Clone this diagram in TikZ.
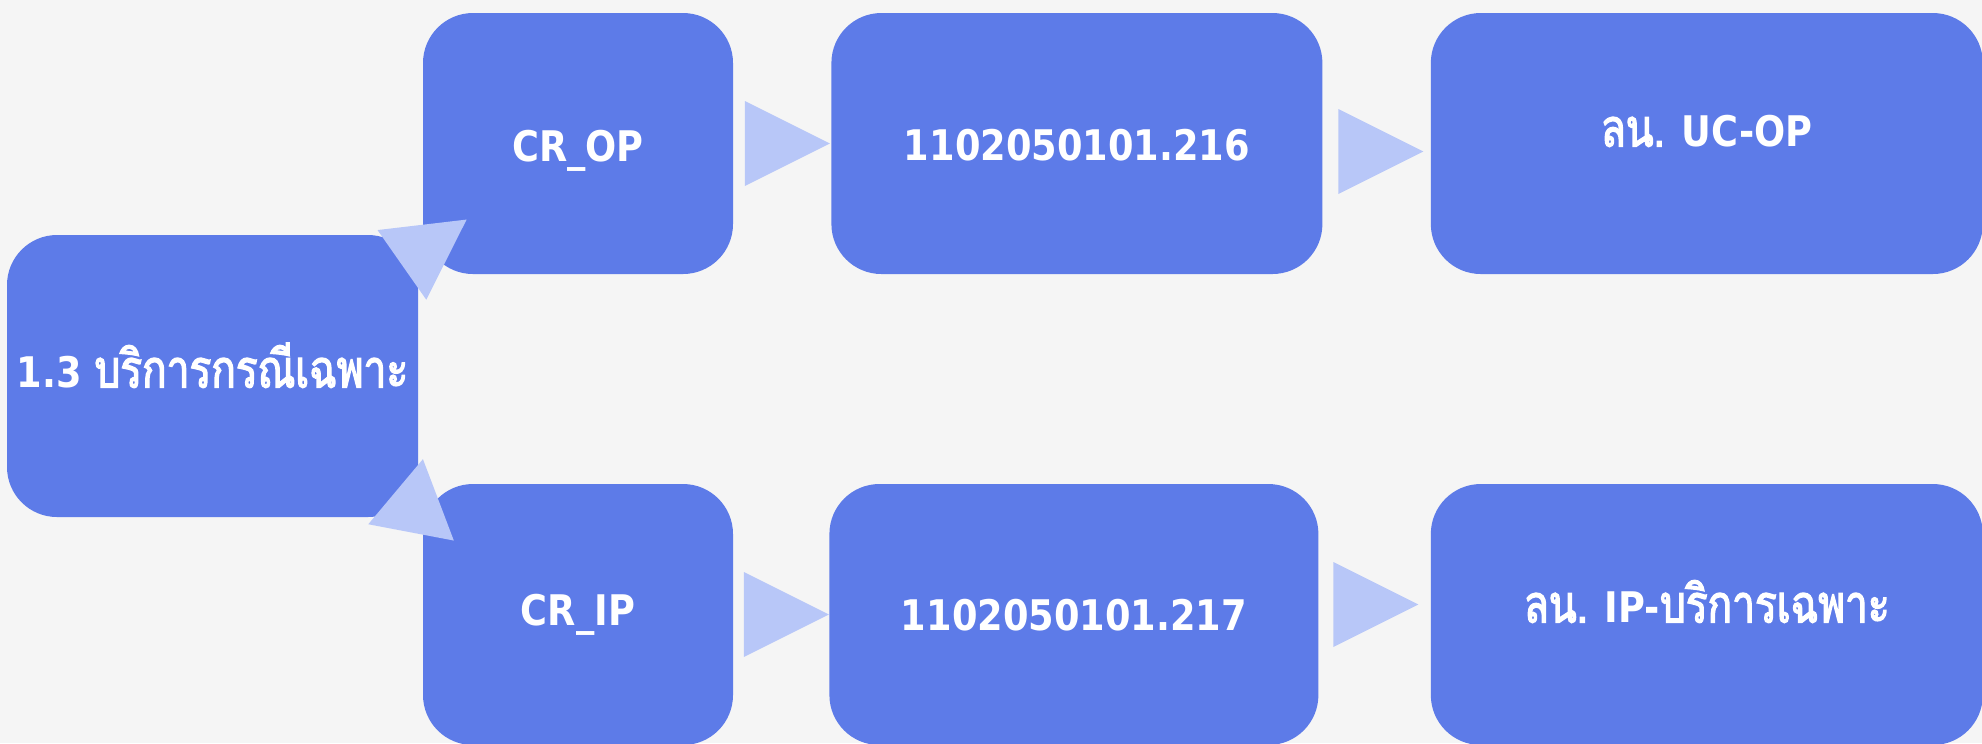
\documentclass[tikz,border=0pt]{standalone}
\usepackage{fontspec}
\setmainfont{DejaVu Sans}[FakeStretch=0.87]
\newfontfamily\thaifont[Script=Thai, FakeBold=2.5, Scale=1.25, FakeStretch=0.77]{Loma}
\newcommand{\thaitxt}[1]{{\thaifont\mdseries #1}}
\usetikzlibrary{positioning, calc, shapes.geometric}
\definecolor{boxblue}{HTML}{5D7BE8}
\definecolor{arrowblue}{HTML}{B8C7F8}
\definecolor{paper}{HTML}{F5F5F5}
\tikzset{
  box/.style={rectangle, rounded corners=5mm, fill=boxblue, text=white,
    font=\bfseries\fontsize{12}{14}\selectfont, text height=3.1mm, text depth=0mm,
    minimum height=26.1mm, inner sep=0pt, align=center},
  tri/.style={isosceles triangle, isosceles triangle stretches, fill=arrowblue,
    minimum width=8.5mm, minimum height=8.5mm, inner sep=0pt}
}

\begin{document}
\begin{tikzpicture}[x=0.1mm, y=-0.1mm]
    \fill[paper] (0,0) rectangle (1982,743);
    \clip (0,0) rectangle (1982,743);

    \node[box, minimum width=41.1mm, minimum height=28.2mm] (root) at (212.5,376) {\raisebox{0.4mm}{1.3 \thaitxt{บริการกรณีเฉพาะ}}};

    \node[box, minimum width=31mm] (crop) at (578,143.5) {\raisebox{-0.25mm}{CR\_OP}};
    \node[box, minimum width=49.1mm, right=9.7mm of crop] (code216) {\raisebox{-0.15mm}{1102050101.216}};
    \node[box, minimum width=55.2mm, right=10.7mm of code216] (ucop) {\raisebox{1.25mm}{\thaitxt{ลน.} UC-OP}};

    \node[box, minimum width=31mm] (crip) at (578,614.5) {\raisebox{0.45mm}{CR\_IP}};
    \node[box, minimum width=48.9mm, right=9.5mm of crip] (code217) {1102050101.217};
    \node[box, minimum width=55.2mm, right=11.1mm of code217] (ipsvc) {\raisebox{0.75mm}{\thaitxt{ลน.} IP-\thaitxt{บริการเฉพาะ}}};

    % arrows
    \node[tri, rotate=35, minimum height=7.9mm] (t1) at ($(root.north east)+(4,16)$) {};
    \node[tri, rotate=-40, minimum height=7.6mm] (t2) at ($(root.south east)+(-4,-10)$) {};
    \node[tri, xshift=-1.1mm] (t3) at ($(crop.east)!0.5!(code216.west)$) {};
    \node[tri, xshift=-1.2mm, yshift=-0.8mm] (t4) at ($(code216.east)!0.5!(ucop.west)$) {};
    \node[tri, xshift=-1.1mm] (t5) at ($(crip.east)!0.5!(code217.west)$) {};
    \node[tri, xshift=-1.5mm, yshift=1mm] (t6) at ($(code217.east)!0.5!(ipsvc.west)$) {};
\end{tikzpicture}
\end{document}
